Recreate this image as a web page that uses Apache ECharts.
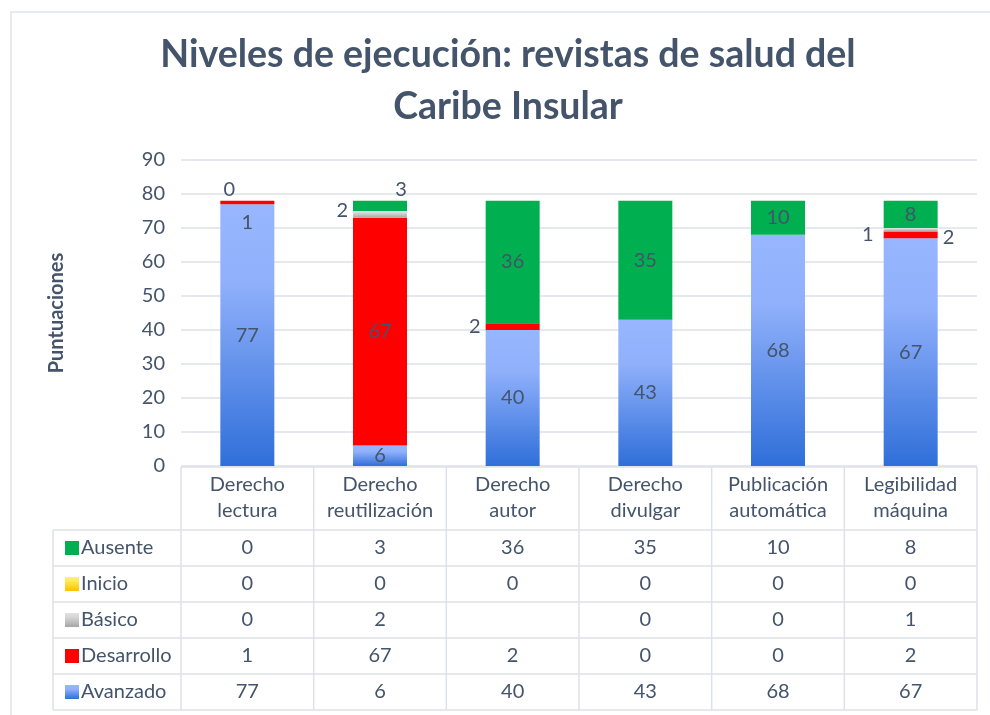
<!DOCTYPE html>
<html>
<head>
<meta charset="utf-8">
<script src="https://cdn.jsdelivr.net/npm/echarts@6/dist/echarts.min.js"></script>
<style>
  html, body { margin: 0; padding: 0; background: #fff; }
  #chart { width: 990px; height: 715px; }
</style>
</head>
<body>
<div id="chart"></div>
<script>
// datos
var categories = ['Derecho lectura', 'Derecho reutilización', 'Derecho autor', 'Derecho divulgar', 'Publicación automática', 'Legibilidad máquina'];
var ausente = [0, 3, 36, 35, 10, 8];
var inicio = [0, 0, 0, 0, 0, 0];
var basico = [0, 2, null, 0, 0, 1];
var desarrollo = [1, 67, 2, 0, 0, 2];
var avanzado = [77, 6, 40, 43, 68, 67];
var yMin = 0, yMax = 90, yStep = 10;

var FONT = 'Lato, "Open Sans", sans-serif';
var TXT = '#44546a';
var LINE = '#dde2e9';

function grad(top, mid, bottom) {
  return {
    type: 'linear', x: 0, y: 0, x2: 0, y2: 1,
    colorStops: [{ offset: 0, color: top }, { offset: 0.3, color: mid }, { offset: 1, color: bottom }]
  };
}

var levels = [
  { name: 'Avanzado', values: avanzado, color: grad('#97b6ff', '#90b0fb', '#2f6fd9') },
  { name: 'Desarrollo', values: desarrollo, color: '#ff0000' },
  { name: 'Básico', values: basico, color: grad('#e2e2e2', '#d6d6d6', '#a5a5a5') },
  { name: 'Inicio', values: inicio, color: grad('#fff27d', '#ffe94d', '#ffc000') },
  { name: 'Ausente', values: ausente, color: '#00b050' }
];

// etiquetas movidas a mano como en el original
var labelTweaks = {
  'Desarrollo-0': { position: 'inside', offset: [0, 20] },
  'Desarrollo-2': { position: 'left', distance: 5 },
  'Desarrollo-5': { position: 'right', distance: 5, offset: [0, 3] },
  'Básico-1': { position: 'left', distance: 5, offset: [0, -4] },
  'Básico-5': { position: 'left', distance: 10, offset: [0, 5] },
  'Ausente-0': { position: 'top', distance: 1, offset: [-18, 0] },
  'Ausente-1': { position: 'top', distance: 1, offset: [21, 0] }
};

var series = levels.map(function (lv) {
  return {
    name: lv.name,
    type: 'bar',
    stack: 'total',
    barWidth: 54,
    itemStyle: { color: lv.color },
    data: lv.values.map(function (v, i) {
      var key = lv.name + '-' + i;
      var tw = labelTweaks[key];
      var show = (v !== null && v > 0) || !!tw;
      return {
        value: v,
        label: Object.assign({
          show: show, position: 'inside', color: TXT, fontSize: 20, fontFamily: FONT
        }, tw || {})
      };
    })
  };
});

var chart = echarts.init(document.getElementById('chart'));

chart.setOption({
  animation: false,
  backgroundColor: '#fff',
  title: {
    text: 'Niveles de ejecución: revistas de salud del\nCaribe Insular',
    left: 508,
    top: 29,
    padding: 0,
    textAlign: 'center',
    textStyle: { fontFamily: FONT, fontSize: 37.5, fontWeight: 'bold', color: TXT, lineHeight: 52 }
  },
  legend: {
    data: ['Ausente', 'Inicio', 'Básico', 'Desarrollo', 'Avanzado'],
    orient: 'vertical',
    left: 60,
    top: 533,
    itemWidth: 14,
    itemHeight: 14,
    itemGap: 16,
    icon: 'rect',
    selectedMode: false,
    textStyle: { fontFamily: FONT, fontSize: 20, color: TXT, lineHeight: 20, padding: [0, 0, 0, -3] }
  },
  grid: { left: 181, right: 13, top: 160, bottom: 249, containLabel: false },
  xAxis: {
    type: 'category',
    data: categories,
    axisLine: { show: false },
    axisTick: { show: false },
    axisLabel: {
      interval: 0,
      margin: 6,
      fontFamily: FONT, fontSize: 20, color: TXT, lineHeight: 26,
      formatter: function (s) { return s.replace(' ', '\n'); }
    }
  },
  yAxis: {
    type: 'value',
    min: yMin, max: yMax, interval: yStep,
    name: 'Puntuaciones',
    nameLocation: 'middle',
    nameGap: 114,
    nameTextStyle: { fontFamily: FONT, fontSize: 20, fontWeight: 'bold', color: TXT },
    axisLine: { show: false },
    axisTick: { show: false },
    axisLabel: { margin: 16, fontFamily: FONT, fontSize: 20, color: TXT },
    splitLine: { lineStyle: { color: LINE, width: 1.5 } }
  },
  series: series
});

// tabla de datos bajo el eje, posicionada con la escala del eje x
function buildTable() {
  var rows = [ausente, inicio, basico, desarrollo, avanzado];
  var x0 = chart.convertToPixel({ xAxisIndex: 0 }, 0);
  var x1 = chart.convertToPixel({ xAxisIndex: 0 }, 1);
  var band = x1 - x0;
  var left = x0 - band / 2;
  var right = left + band * categories.length;
  var headTop = 467, rowTop = 530, rowH = 36, legendLeft = 53;
  var bottom = rowTop + rowH * rows.length;
  var g = [];
  var ls = { stroke: LINE, lineWidth: 1.5 };

  g.push({ type: 'rect', shape: { x: 11, y: 12, width: 1000, height: 720 }, style: { fill: 'none', stroke: '#dfe4ec', lineWidth: 1.5 }, silent: true, z: -10 });

  g.push({ type: 'line', shape: { x1: left, y1: headTop, x2: right, y2: headTop }, style: ls });
  for (var r = 0; r <= rows.length; r++) {
    var y = rowTop + r * rowH;
    g.push({ type: 'line', shape: { x1: legendLeft, y1: y, x2: right, y2: y }, style: ls });
  }
  g.push({ type: 'line', shape: { x1: legendLeft, y1: rowTop, x2: legendLeft, y2: bottom }, style: ls });
  for (var c = 0; c <= categories.length; c++) {
    var x = left + c * band;
    g.push({ type: 'line', shape: { x1: x, y1: headTop, x2: x, y2: bottom }, style: ls });
  }
  rows.forEach(function (vals, ri) {
    vals.forEach(function (v, ci) {
      g.push({
        type: 'text',
        x: chart.convertToPixel({ xAxisIndex: 0 }, ci),
        y: rowTop + ri * rowH + rowH / 2,
        style: {
          text: v === null ? '' : String(v),
          fill: TXT, font: '20px ' + FONT,
          textAlign: 'center', textVerticalAlign: 'middle'
        }
      });
    });
  });
  chart.setOption({ graphic: g });
}
buildTable();
</script>
</body>
</html>
